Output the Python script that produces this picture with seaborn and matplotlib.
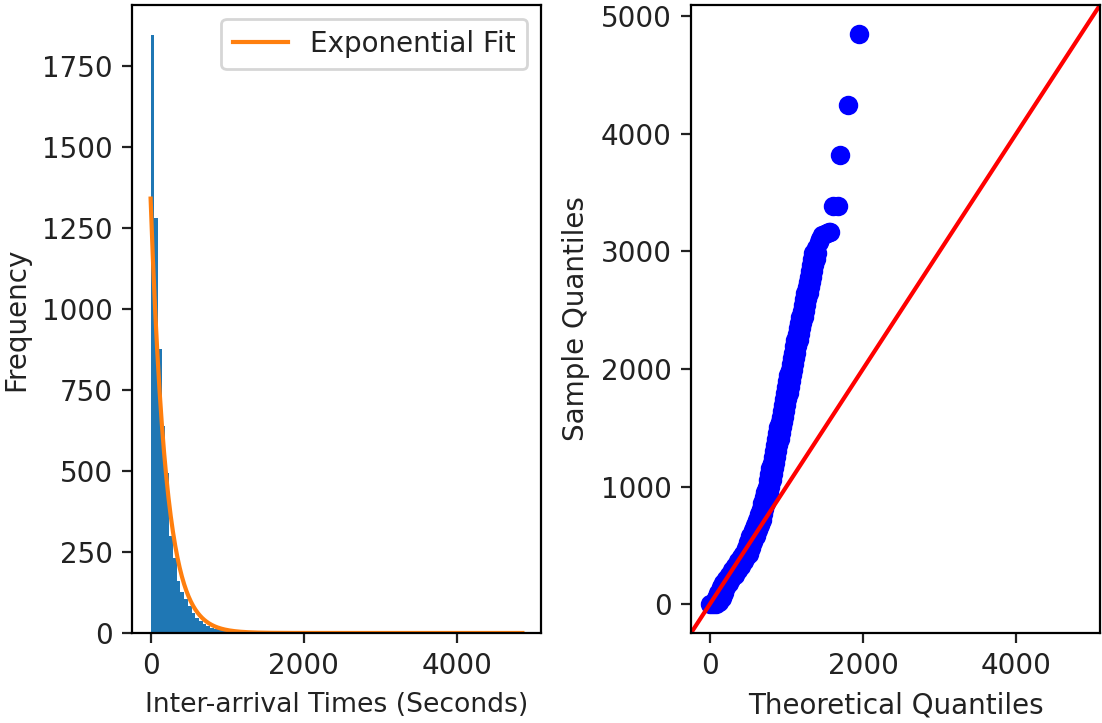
import numpy as np
import pandas as pd
import matplotlib
matplotlib.use("Agg")
import matplotlib.pyplot as plt
import seaborn as sns

# Histogram of inter-arrival times: 100 equal bins from 0 to the largest gap
max_gap = 4850
n_bins = 100
bin_counts = [
    1845, 1281, 876, 640, 495, 300, 230, 160, 125, 105,
    82, 62, 47, 36, 28, 21, 16, 13, 11, 9,
    8, 7, 6, 6, 5, 5, 4, 4, 3, 3,
    2, 3, 2, 2, 2, 1, 2, 1, 1, 1,
    1, 1, 1, 1, 0, 1, 1, 0, 1, 1,
    0, 1, 0, 1, 0, 1, 1, 0, 1, 0,
    1, 0, 1, 1, 3, 1, 0, 0, 0, 2,
    0, 0, 0, 0, 0, 0, 0, 0, 1, 0,
    0, 0, 0, 0, 0, 0, 0, 1, 0, 0,
    0, 0, 0, 0, 0, 0, 0, 0, 0, 1,
]

# Exponential fit parameters (peak count at zero, mean gap in seconds)
fit_peak = 1340
fit_scale = 200

# Q-Q points against the fitted exponential distribution.
# The dense body of the plot is a two-point-wide band: for each sample
# quantile there is a point on the left and on the right side of the band.
qq_bottom_theo = [0, 40, 80]
qq_bottom_sample = [0, 0, 5]

qq_lower_sample = [20, 55, 100, 148, 180, 215, 250, 290, 330, 370,
                   405, 432, 480, 530, 580, 630, 675, 717]
qq_lower_theo_left = [55, 85, 115, 146, 180, 215, 255, 295, 335, 375,
                      410, 440, 470, 500, 530, 560, 587, 614]
qq_lower_theo_right = [125, 155, 185, 216, 250, 285, 325, 365, 405, 445,
                       480, 510, 540, 570, 600, 630, 657, 684]

qq_mid_sample = [765, 815, 860, 910, 955, 1001, 1055, 1105, 1155, 1205,
                 1255, 1305, 1355, 1405, 1455, 1505, 1550, 1595, 1645, 1695,
                 1745, 1795, 1845, 1895, 1945, 1995, 2045, 2095, 2139, 2195,
                 2245, 2295, 2345, 2395, 2445, 2495, 2545, 2595, 2645, 2695,
                 2735, 2782, 2832, 2882, 2932, 2982]
qq_mid_theo_left = [648, 668, 688, 708, 728, 747, 763, 778, 793, 808,
                    823, 838, 853, 868, 883, 898, 913, 928, 942, 957,
                    971, 985, 1000, 1014, 1028, 1043, 1057, 1071, 1085, 1102,
                    1118, 1135, 1151, 1167, 1183, 1200, 1216, 1232, 1248, 1264,
                    1278, 1293, 1308, 1323, 1339, 1354]
qq_mid_theo_right = [692, 712, 732, 752, 772, 791, 807, 822, 837, 852,
                     867, 882, 897, 912, 927, 942, 957, 972, 986, 1001,
                     1015, 1029, 1044, 1058, 1072, 1087, 1101, 1115, 1129, 1146,
                     1162, 1179, 1195, 1211, 1227, 1244, 1260, 1276, 1292, 1308,
                     1322, 1337, 1352, 1367, 1383, 1398]

qq_top_theo = [1390, 1420, 1440, 1470, 1500, 1530, 1560, 1575,
               1603, 1678, 1704, 1808, 1952]
qq_top_sample = [3030, 3075, 3105, 3135, 3150, 3158, 3162, 3163,
                 3384, 3384, 3814, 4244, 4850]

theoretical_q = (qq_bottom_theo + qq_lower_theo_left + qq_lower_theo_right
                 + qq_mid_theo_left + qq_mid_theo_right + qq_top_theo)
sample_q = (qq_bottom_sample + qq_lower_sample + qq_lower_sample
            + qq_mid_sample + qq_mid_sample + qq_top_sample)

dpi = 200
fig, (ax1, ax2) = plt.subplots(1, 2, figsize=(1102 / dpi, 723 / dpi), dpi=dpi)
fig.subplots_adjust(left=0.1198, right=0.9982, bottom=0.1245, top=0.9931, wspace=0.367)

text_color = "#222222"
for ax in (ax1, ax2):
    ax.tick_params(colors=text_color, labelcolor=text_color)

# Left panel: histogram with the exponential fit on top
bin_width = max_gap / n_bins
hist_df = pd.DataFrame({
    "gap": bin_width * (np.arange(n_bins) + 0.5),
    "count": bin_counts,
})
sns.histplot(data=hist_df, x="gap", weights="count", binwidth=bin_width,
             binrange=(0, max_gap), ax=ax1, color="#1f77b4", alpha=1.0,
             linewidth=0)

fit_x = np.linspace(0, max_gap, 500)
fit_y = fit_peak * np.exp(-fit_x / fit_scale)
sns.lineplot(x=fit_x, y=fit_y, ax=ax1, color="#ff7f0e", linewidth=1.5,
             label="Exponential Fit")
leg = ax1.legend(loc="upper right")
for t in leg.get_texts():
    t.set_color(text_color)
ax1.set_xlabel("Inter-arrival Times (Seconds)", color=text_color, fontsize=9.6)
ax1.set_ylabel("Frequency", color=text_color)

# Right panel: Q-Q scatter with a 45-degree reference line
sns.scatterplot(x=theoretical_q, y=sample_q, ax=ax2, color="blue",
                edgecolor="blue", s=36, linewidth=1)
xlim = ax2.get_xlim()
ylim = ax2.get_ylim()
lo = min(xlim[0], ylim[0])
hi = max(xlim[1], ylim[1])
ax2.plot([lo, hi], [lo, hi], color="red", linewidth=1.5)
ax2.set_xlim(lo, hi)
ax2.set_ylim(lo, hi)
ax2.set_xlabel("Theoretical Quantiles", color=text_color)
ax2.set_ylabel("Sample Quantiles", color=text_color)

fig.savefig("out.png", dpi=dpi)
